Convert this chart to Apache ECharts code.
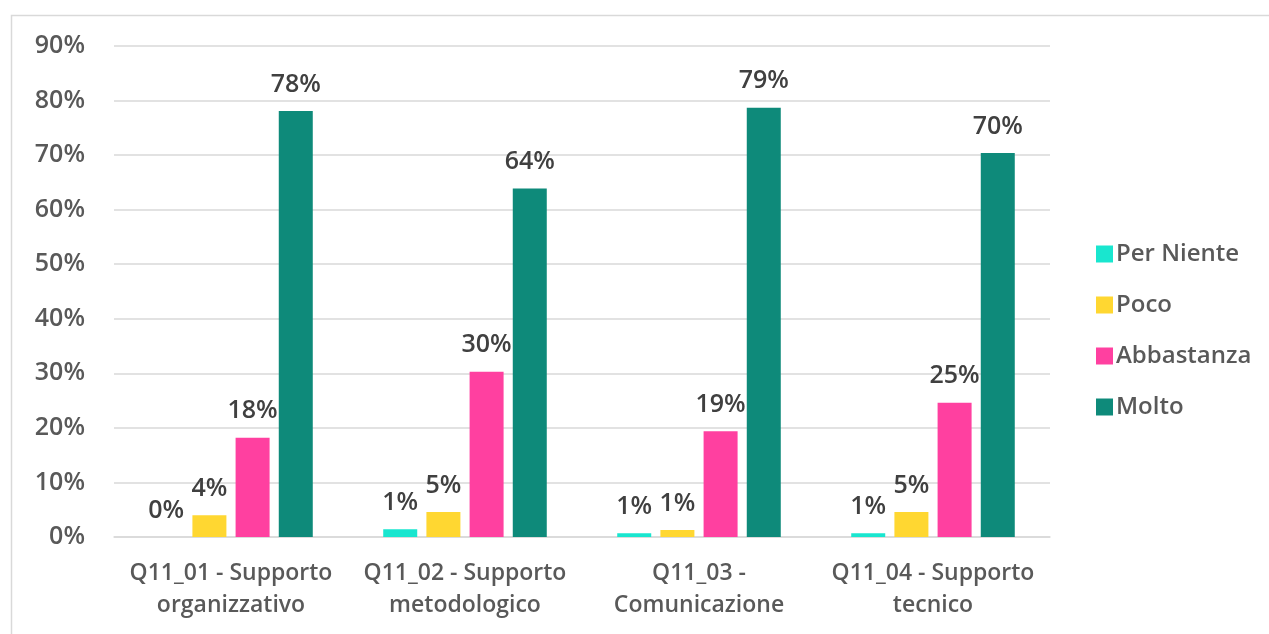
<!DOCTYPE html>
<html><head><meta charset="utf-8">
<script src="https://cdn.jsdelivr.net/npm/echarts@6/dist/echarts.min.js"></script>
<style>html,body{margin:0;padding:0;background:#fff}#c{width:1269px;height:634px}</style>
</head><body><div id="c"></div>
<script>
var categories = ["Q11_01 - Supporto\norganizzativo","Q11_02 - Supporto\nmetodologico","Q11_03 -\nComunicazione","Q11_04 - Supporto\ntecnico"];
var seriesNames = ["Per Niente","Poco","Abbastanza","Molto"];
var perNiente = [0.0, 1.4, 0.7, 0.7];
var poco = [4.0, 4.6, 1.3, 4.6];
var abbastanza = [18.2, 30.3, 19.4, 24.6];
var molto = [78.1, 63.9, 78.7, 70.4];
var colors = ["#19E6CF","#FFD731","#FF40A0","#0E8A7A"];
var yTicks = [0,10,20,30,40,50,60,70,80,90];

var values = [perNiente, poco, abbastanza, molto];
var font = "Open Sans";
var chart = echarts.init(document.getElementById('c'));
chart.setOption({
  animation:false,
  graphic:[{type:'rect',left:9,top:13,shape:{width:1300,height:700},style:{fill:'none',stroke:'#d9d9d9',lineWidth:1.5},silent:true}],
  grid:{left:114,right:219,top:46,bottom:97},
  legend:{orient:'vertical',left:1091,top:237,itemWidth:17,itemHeight:17,itemGap:27,icon:'rect',
    textStyle:{fontFamily:font,fontSize:24,fontWeight:600,color:'#595959',padding:[0,0,0,-2]},data:seriesNames},
  xAxis:{type:'category',data:categories,axisTick:{show:false},
    axisLine:{lineStyle:{color:'#d9d9d9',width:1.5}},
    axisLabel:{fontFamily:font,fontSize:23,fontWeight:600,color:'#595959',lineHeight:32,margin:20,interval:0}},
  yAxis:{type:'value',min:yTicks[0],max:yTicks[yTicks.length-1],interval:10,
    axisLine:{show:false},axisTick:{show:false},
    splitLine:{lineStyle:{color:'#d9d9d9',width:1.5}},
    axisLabel:{fontFamily:font,fontSize:25,fontWeight:600,color:'#595959',margin:29,formatter:function(v){return v+'%';}}},
  series:seriesNames.map(function(n,i){return {name:n,type:'bar',data:values[i],barWidth:34,barGap:'27%',barCategoryGap:'30%',
    itemStyle:{color:colors[i]},
    label:{show:true,position:'top',distance:14,fontFamily:font,fontSize:25,fontWeight:600,color:'#404040',
      formatter:function(p){return Math.round(p.value)+'%';}}};})
});
</script></body></html>
